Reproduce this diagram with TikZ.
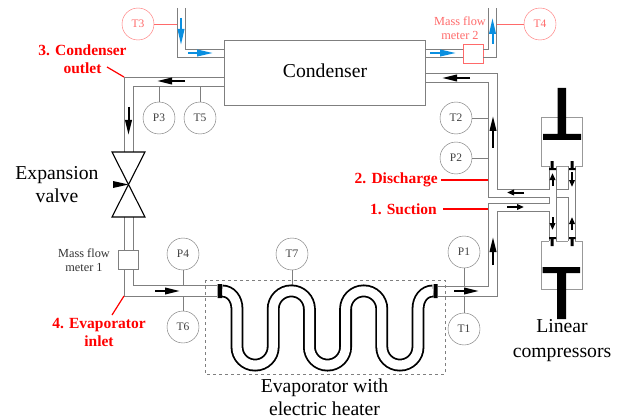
\documentclass[tikz,border=0pt]{standalone}
\usepackage{fontspec}
\setmainfont{Liberation Serif}
\usetikzlibrary{arrows.meta}
\definecolor{pipegray}{HTML}{7F7F7F}
\definecolor{palered}{HTML}{FF6A6A}
\definecolor{flowblue}{HTML}{0A8FE0}
\begin{document}
\begin{tikzpicture}
    [x=1pt,y=1pt,yscale=-1,
     pipe/.style={draw=pipegray,line width=0.9pt},
     sensor/.style={shape=circle,draw=pipegray!85!black,minimum size=32pt,inner sep=0pt,font=\fontsize{11.5}{13}\selectfont,text=black!75},
     redsensor/.style={sensor,draw=palered,text=palered},
     stub/.style={draw=pipegray,line width=0.7pt},
     redstub/.style={draw=palered,line width=0.7pt},
     meter/.style={shape=rectangle,draw=pipegray,minimum width=20pt,minimum height=19pt,inner sep=0pt},
     flow/.style={-{Triangle[length=15pt,width=6.5pt]},line width=2pt},
     smallflow/.style={-{Triangle[length=7pt,width=5.5pt]},line width=2pt},
     blueflow/.style={-{Triangle[length=16pt,width=6.5pt]},line width=2pt,draw=flowblue,fill=flowblue},
     title/.style={align=center,inner sep=0pt,font=\fontsize{19.7}{23}\selectfont},
     small/.style={align=center,inner sep=0pt,font=\fontsize{12.3}{14}\selectfont,text=black!80},
     point/.style={align=center,inner sep=0pt,text=red,font=\fontsize{15.5}{18}\selectfont\bfseries},
     leader/.style={draw=red,line width=1.2pt},
     tube/.style={line width=1.8pt,double=white,double distance=9.2pt}]
    \useasboundingbox (0,0) rectangle (622,420);
    \node [pipe,shape=rectangle,minimum width=201pt,minimum height=65pt,inner sep=0pt,outer sep=0pt] (cond) at (324.5,72.5) {};
    \node [title] (condtext) at (325,71) {Condenser};
    % water side
    \draw [pipe] (177,8) -- (177,57) -- (cond.west |- 0,57);
    \draw [pipe] (185,8) -- (185,49) -- (cond.west |- 0,49);
    \node [meter,draw=palered] (mf2) at (473,53.5) {};
    \draw [pipe] (cond.east |- 0,49) -- (mf2.west |- 0,49) (mf2.east |- 0,49) -- (488.5,49) -- (488.5,8);
    \draw [pipe] (cond.east |- 0,57) -- (mf2.west |- 0,57) (mf2.east |- 0,57) -- (496.5,57) -- (496.5,8);
    \draw [blueflow] (181,18) -- (181,45);
    \draw [blueflow] (188,53) -- (213,53);
    \draw [blueflow] (430,53) -- (456,53);
    \draw [blueflow] (492.5,44) -- (492.5,18);
    % refrigerant loop
    \node [meter] (mf1) at (128,259.5) {};
    \draw [pipe] (cond.west |- 0,77) -- (124,77) -- (124,152) (124,217) -- (mf1.north -| 124,0) (mf1.south -| 124,0) -- (124,296) -- (217,296);
    \draw [pipe] (cond.west |- 0,86) -- (133,86) -- (133,152) (133,217) -- (mf1.north -| 133,0) (mf1.south -| 133,0) -- (133,285.5) -- (217,285.5);
    \draw [pipe] (cond.east |- 0,73.5) -- (497.7,73.5) -- (497.7,189) -- (549,189) -- (549,166);
    \draw [pipe] (cond.east |- 0,82) -- (488.3,82) -- (488.3,197) -- (549,197) -- (549,203.5) -- (488.3,203.5) -- (488.3,286) -- (438,286);
    \draw [pipe] (438,296) -- (497.7,296) -- (497.7,211) -- (549,211) -- (549,241);
    \draw [pipe] (556,166) -- (556,241) (575,166) -- (575,241);
    \draw [pipe] (568,166) -- (568,189) -- (556,189) (556,197) -- (568,197) -- (568,241);
    \draw [flow] (185,81) -- (157,81);
    \draw [flow] (128.5,107) -- (128.5,135);
    \draw [flow] (155,291) -- (180,291);
    \draw [flow] (454,291) -- (479,291);
    \draw [flow] (493,265) -- (493,237);
    \draw [flow] (493,148) -- (493,116);
    \draw [flow] (470,78) -- (442,78);
    \draw [smallflow] (524,192.5) -- (507,192.5);
    \draw [smallflow] (507,207) -- (524,207);
    \draw [smallflow] (552.5,186) -- (552.5,173);
    \draw [smallflow] (572,172) -- (572,187);
    \draw [smallflow] (552.5,217) -- (552.5,230);
    \draw [smallflow] (572,230) -- (572,217);
    % expansion valve
    \draw [line width=1.1pt] (112,152) -- (145,152) -- (112,217) -- (145,217) -- cycle;
    \fill (113,181) -- (128.5,184.5) -- (113,188) -- cycle;
    \node [title] (valvetext) at (57,184.5) {Expansion\\valve};
    \node [small] (mf1text) at (84,260) {Mass flow\\meter 1};
    \node [small,text=palered] (mf2text) at (460,28) {Mass flow\\meter 2};
    % sensors
    \coordinate (tapT3) at (177,24);
    \coordinate (tapT4) at (496.5,24);
    \coordinate (tapP3) at (159,86);
    \coordinate (tapT5) at (200,86);
    \coordinate (tapP4) at (183,285.5);
    \coordinate (tapT6) at (183,296);
    \coordinate (tapT7) at (292,285);
    \coordinate (tapP1) at (464,286);
    \coordinate (tapT1) at (464,296);
    \coordinate (tapT2) at (488.3,118);
    \coordinate (tapP2) at (488.3,158);
    \node [redsensor] (T3) at (138,24) {T3} edge [redstub] (tapT3);
    \node [redsensor] (T4) at (540,24) {T4} edge [redstub] (tapT4);
    \node [sensor] (P3) at (159,118) {P3} edge [stub] (tapP3);
    \node [sensor] (T5) at (200,118) {T5} edge [stub] (tapT5);
    \node [sensor] (P4) at (183,254) {P4} edge [stub] (tapP4);
    \node [sensor] (T6) at (183,327) {T6} edge [stub] (tapT6);
    \node [sensor] (T7) at (292,254) {T7} edge [stub] (tapT7);
    \node [sensor] (P1) at (464,252) {P1} edge [stub] (tapP1);
    \node [sensor] (T1) at (464,329) {T1} edge [stub] (tapT1);
    \node [sensor] (T2) at (456,118) {T2} edge [stub] (tapT2);
    \node [sensor] (P2) at (456,158) {P2} edge [stub] (tapP2);
    % evaporator
    \draw [draw=pipegray,dashed,line width=0.8pt] (205,280) rectangle (445,374);
    \draw [tube] (222,291) .. controls (231,291) and (237,299) .. (237,309) -- (237,347)
      arc (180:0:18.1) -- ++(0,-38) arc (180:360:18.1) -- ++(0,38)
      arc (180:0:18.1) -- ++(0,-38) arc (180:360:18.1) -- ++(0,38)
      arc (180:0:18.1) -- ++(0,-38) .. controls (418,299) and (424,291) .. (433,291);
    \fill (217.5,284) rectangle (222,298) (433.7,284) rectangle (437.7,298);
    \node [title] (evaptext) at (324.5,397.5) {Evaporator with\\electric heater};
    % linear compressors
    \draw [draw=pipegray!80,line width=0.9pt] (549,166) -- (541.7,166) -- (541.7,117) -- (582,117) -- (582,166) -- (575,166) (556,166) -- (568,166);
    \draw [draw=pipegray!80,line width=0.9pt] (549,241) -- (541.7,241) -- (541.7,289) -- (582,289) -- (582,241) -- (575,241) (556,241) -- (568,241);
    \fill (557.5,88) rectangle (566,134) (543,134) rectangle (581,140);
    \fill (542.7,267) rectangle (580,273) (557,273) rectangle (566,319);
    \fill (550.7,161) rectangle (553.7,170) (549,168) rectangle (556,170);
    \fill (570.7,161) rectangle (573.7,170) (569,168) rectangle (575.5,170);
    \fill (550.7,237) rectangle (553.7,246) (549,237) rectangle (556,239);
    \fill (570.7,237) rectangle (573.7,246) (569,237) rectangle (575.5,239);
    \node [title,font=\fontsize{19.7}{25}\selectfont] (comptext) at (562,340.5) {Linear\\compressors};
    % state points
    \coordinate (pt1) at (488.3,209);
    \coordinate (pt2) at (488.3,180);
    \coordinate (pt3) at (124,77);
    \coordinate (pt4) at (124,296);
    \node [point,anchor=east] (suction) at (437,209) {1. Suction};
    \node [point,anchor=east] (discharge) at (438,179.5) {2. Discharge};
    \node [point] (outlet) at (82.5,59) {3. Condenser\\outlet};
    \node [point] (inlet) at (99,332) {4. Evaporator\\inlet};
    \coordinate (from1) at (443,209);
    \coordinate (from2) at (441,180);
    \coordinate (from3) at (107,67);
    \coordinate (from4) at (112,315);
    \draw [leader] (from1) -- (pt1);
    \draw [leader] (from2) -- (pt2);
    \draw [leader] (from3) -- (pt3);
    \draw [leader] (from4) -- (pt4);
  \end{tikzpicture}
\end{document}
